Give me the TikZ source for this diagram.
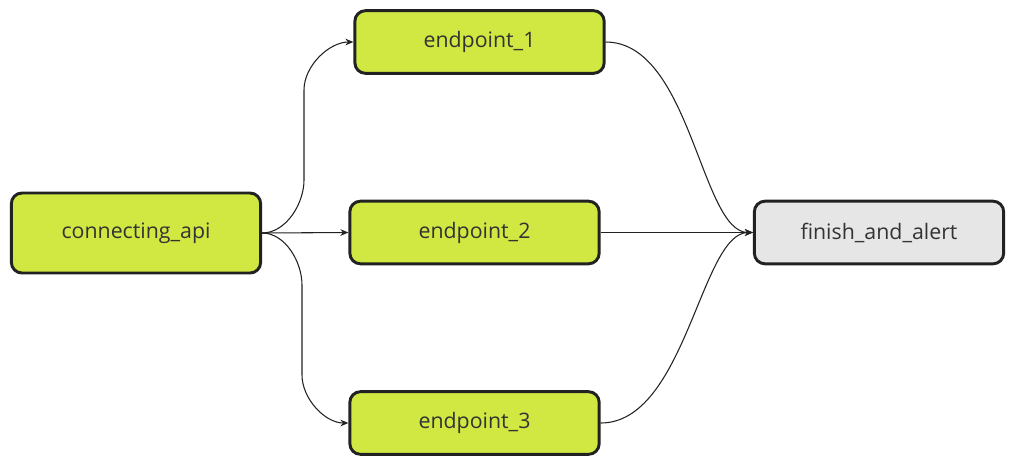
\documentclass[tikz,border=0pt]{standalone}
\usepackage{fontspec}
\setmainfont{Open Sans}
\usepackage{tikz}
\usetikzlibrary{positioning,arrows.meta}

\definecolor{limefill}{HTML}{D1E842}
\definecolor{greyfill}{HTML}{E6E6E6}
\definecolor{edgeline}{HTML}{222222}

\begin{document}
\begin{tikzpicture}[x=0.75pt, y=-0.75pt,
    task/.style={rectangle, rounded corners=8pt, draw=edgeline, line width=2.2pt, fill=limefill,
                 minimum width=187pt, minimum height=47pt, font=\fontsize{16}{19}\selectfont, text=black!80},
    flow/.style={-{Stealth[length=6pt, width=5pt]}, line width=0.8pt, draw=edgeline}
]
\useasboundingbox (0,0) rectangle (1012,462);

% Nodes
\node[task, minimum height=60pt] (conn) at (136,233) {connecting\_api};
\node[task] (ep1) at (479.5,42) {endpoint\_1};
\node[task] (ep2) at (474.5,232.5) {endpoint\_2};
\node[task] (ep3) at (474.5,423) {endpoint\_3};
\node[task, fill=greyfill] (finish) at (879,232.5) {finish\_and\_alert};

% Edges
\draw[flow] (conn.east) to[out=0, in=-90, looseness=0.9] (304,180) -- (304,90)
    to[out=90, in=180, looseness=0.9] (ep1.west);
\draw[flow] (conn.east) -- (ep2.west);
\draw[flow] (conn.east) to[out=0, in=90, looseness=0.9] (302,285) -- (302,375)
    to[out=-90, in=180, looseness=0.9] (ep3.west);
\draw[flow] (ep1.east) .. controls +(85,0) and +(-52,0) .. (finish.west);
\draw[flow] (ep2.east) -- (finish.west);
\draw[flow] (ep3.east) .. controls +(85,0) and +(-52,0) .. (finish.west);

\end{tikzpicture}
\end{document}
